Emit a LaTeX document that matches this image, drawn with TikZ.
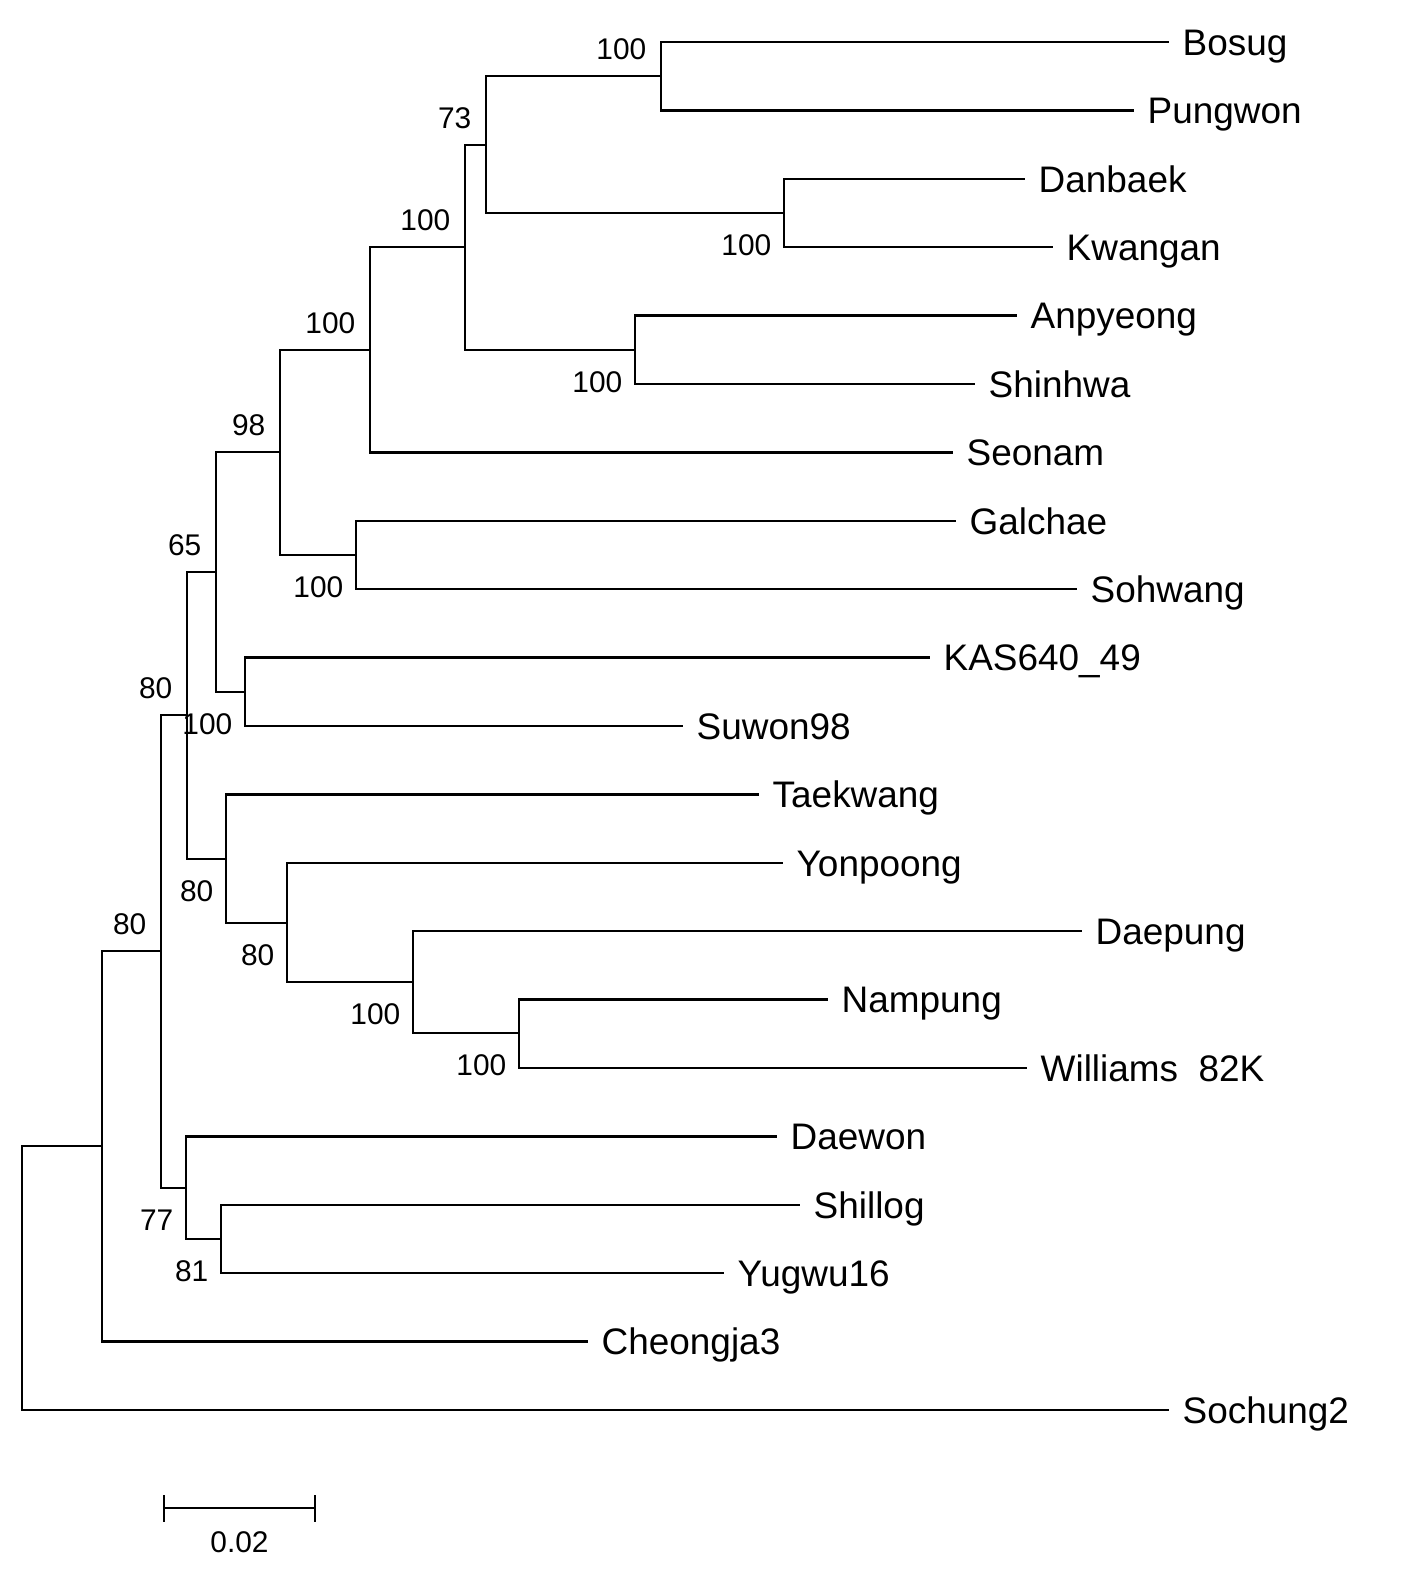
\documentclass[tikz,border=0pt]{standalone}
\usepackage{fontspec}
\setmainfont{Liberation Sans}
\usetikzlibrary{positioning}

\tikzset{
  branch/.style={line width=0.7pt, line cap=rect},
  leaf/.style={font=\fontsize{10.5pt}{12pt}\selectfont, inner sep=0pt,
               text height=7.6pt, text depth=0pt},
  boot/.style={font=\fontsize{8.5pt}{10pt}\selectfont, inner sep=0pt,
               text height=6.1pt, text depth=0pt},
  bsabove/.style={boot, anchor=south east, xshift=-0.14cm, yshift=0.16cm},
  bsbelow/.style={boot, anchor=north east, xshift=-0.12cm, yshift=-0.20cm}
}

\begin{document}
\begin{tikzpicture}[x=0.01cm, y=-0.01cm, declare function={dy=68.4;}]
\useasboundingbox (0,0) rectangle (1427,1572);

% 1. leaves: tip coordinate and name
\foreach \name/\tip[count=\i] in {Bosug/1168, Pungwon/1133, Danbaek/1024,
    Kwangan/1052, Anpyeong/1016, Shinhwa/974, Seonam/952, Galchae/955,
    Sohwang/1076, KAS640\_49/929, Suwon98/682, Taekwang/758, Yonpoong/782,
    Daepung/1081, Nampung/827, Williams~ 82K/1026, Daewon/776, Shillog/799,
    Yugwu16/723, Cheongja3/587, Sochung2/1168}{
  \coordinate (t-\i) at (\tip, {42+(\i-1)*dy});
  \node[leaf, right=0.14cm of t-\i] (l-\i) {\name};
}

% 2. internal nodes
\coordinate (n1)  at (661, 76);
\coordinate (n2)  at (784, 213);
\coordinate (n3)  at (486, 145);
\coordinate (n4)  at (635, 350);
\coordinate (n5)  at (465, 247);
\coordinate (n6)  at (370, 350);
\coordinate (n7)  at (356, 555);
\coordinate (n8)  at (280, 452);
\coordinate (n9)  at (245, 692);
\coordinate (n10) at (216, 572);
\coordinate (n11) at (519, 1033);
\coordinate (n12) at (413, 982);
\coordinate (n13) at (287, 923);
\coordinate (n14) at (226, 859);
\coordinate (n15) at (187, 715);
\coordinate (n16) at (221, 1239);
\coordinate (n17) at (186, 1188);
\coordinate (n18) at (161, 951);
\coordinate (n19) at (102, 1146);
\coordinate (root) at (22, 1278);

% 3. branches
\foreach \p/\c in {n1/t-1, n1/t-2, n2/t-3, n2/t-4, n3/n1, n3/n2,
    n4/t-5, n4/t-6, n5/n3, n5/n4, n6/n5, n6/t-7, n7/t-8, n7/t-9,
    n8/n6, n8/n7, n9/t-10, n9/t-11, n10/n8, n10/n9,
    n11/t-15, n11/t-16, n12/t-14, n12/n11, n13/t-13, n13/n12,
    n14/t-12, n14/n13, n15/n10, n15/n14,
    n16/t-18, n16/t-19, n17/t-17, n17/n16, n18/n15, n18/n17,
    n19/n18, n19/t-20, root/n19, root/t-21}
  \draw[branch] (\p) |- (\c);

% 4. bootstrap values
\foreach \n/\v in {n1/100, n3/73, n5/100, n6/100, n8/98, n10/65, n15/80, n18/80}
  \node[bsabove] (bs-\n) at (\n) {\v};
\foreach \n/\v in {n2/100, n4/100, n7/100, n9/100, n11/100, n12/100,
    n13/80, n14/80, n16/81, n17/77}
  \node[bsbelow] (bs-\n) at (\n) {\v};

% 5. scale bar
\coordinate (sb-l) at (164, 1508);
\coordinate (sb-r) at (315, 1508);
\coordinate (sb-m) at (239.5, 1508);
\draw[branch] (sb-l) -- (sb-r)
  (sb-l) ++(0,-12) -- ++(0,25)
  (sb-r) ++(0,-12) -- ++(0,25);
\node[boot, below=0.22cm of sb-m] (sb-t) {0.02};
\end{tikzpicture}
\end{document}
